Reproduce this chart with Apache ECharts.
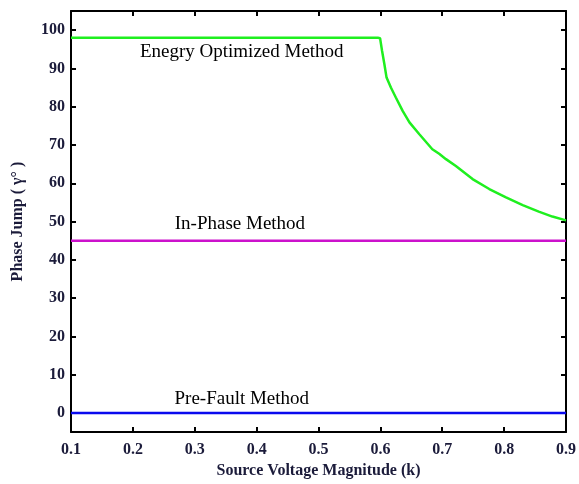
<!DOCTYPE html>
<html><head><meta charset="utf-8">
<script src="https://cdn.jsdelivr.net/npm/echarts@6/dist/echarts.min.js"></script>
<style>html,body{margin:0;padding:0;background:#fff}#c{width:579px;height:484px}</style>
</head><body><div id="c"></div>
<script>
const xTicks = [0.1,0.2,0.3,0.4,0.5,0.6,0.7,0.8,0.9];
const yTicks = [0,10,20,30,40,50,60,70,80,90,100];
const energyX = [0.1,0.2,0.3,0.4,0.5,0.58,0.596,0.5995,0.6027,0.6065,0.610,0.617,0.625,0.636,0.647,0.663,0.684,0.695,0.706,0.722,0.749,0.776,0.803,0.830,0.856,0.878,0.9];
const energyY = [98,98,98,98,98,98,98,97.9,94.6,91.1,87.6,85.0,82.4,78.9,75.9,72.8,68.9,67.7,66.3,64.5,61.1,58.5,56.3,54.3,52.6,51.3,50.3];
const inPhaseX = [0.1,0.9];
const inPhaseY = [45,45];
const preFaultX = [0.1,0.9];
const preFaultY = [0,0];
const labelNames = ['Enegry Optimized Method','In-Phase Method','Pre-Fault Method'];
const labelX = [0.376,0.373,0.376];
const labelY = [94.2,49.4,3.7];

const zip = (a,b)=>a.map((v,i)=>[v,b[i]]);
const serif = '"Liberation Serif","DejaVu Serif",serif';
const tc = '#1b1b3a';
const axisCommon = {
  axisLine:{show:true,onZero:false,lineStyle:{color:'#000',width:2}},
  axisTick:{show:true,inside:true,length:5,lineStyle:{color:'#000',width:2}},
  splitLine:{show:false}
};
const chart = echarts.init(document.getElementById('c'));
chart.setOption({
  animation:false,
  grid:{left:71,right:12,top:11,bottom:51},
  xAxis:[
    Object.assign({type:'value',position:'bottom',min:0.1,max:0.9,
      name:'Source Voltage Magnitude (k)',nameLocation:'middle',nameGap:25,
      nameTextStyle:{fontFamily:serif,fontWeight:'bold',fontSize:16,color:tc},
      axisLabel:{customValues:xTicks,margin:10,fontFamily:serif,fontWeight:'bold',fontSize:16,color:tc,formatter:v=>v.toFixed(1)}},
      axisCommon,{axisTick:Object.assign({},axisCommon.axisTick,{customValues:xTicks})}),
    Object.assign({type:'value',position:'top',min:0.1,max:0.9,axisLabel:{show:false}},
      axisCommon,{axisTick:Object.assign({},axisCommon.axisTick,{customValues:xTicks})})
  ],
  yAxis:[
    Object.assign({type:'value',position:'left',min:-5,max:105,
      name:'Phase Jump ( γ° )',nameLocation:'middle',nameGap:45,nameRotate:90,
      nameTextStyle:{fontFamily:serif,fontWeight:'bold',fontSize:16,color:tc},
      axisLabel:{customValues:yTicks,margin:6,fontFamily:serif,fontWeight:'bold',fontSize:16,color:tc}},
      axisCommon,{axisTick:Object.assign({},axisCommon.axisTick,{customValues:yTicks})}),
    Object.assign({type:'value',position:'right',min:-5,max:105,axisLabel:{show:false}},
      axisCommon,{axisTick:Object.assign({},axisCommon.axisTick,{customValues:yTicks})})
  ],
  series:[
    {type:'line',data:zip(energyX,energyY),symbol:'none',lineStyle:{color:'#1fef1f',width:2.5},smooth:false},
    {type:'line',data:zip(inPhaseX,inPhaseY),symbol:'none',lineStyle:{color:'#cc11cc',width:2.5}},
    {type:'line',data:zip(preFaultX,preFaultY),symbol:'none',lineStyle:{color:'#0a0aee',width:2.5}},
    {type:'scatter',symbolSize:0,silent:true,itemStyle:{opacity:1},
      data:labelNames.map((n,i)=>({name:n,value:[labelX[i],labelY[i]]})),
      label:{show:true,position:'inside',formatter:p=>p.name,fontFamily:serif,fontSize:19,color:'#000',opacity:1,textBorderWidth:0}}
  ]
});
</script></body></html>
